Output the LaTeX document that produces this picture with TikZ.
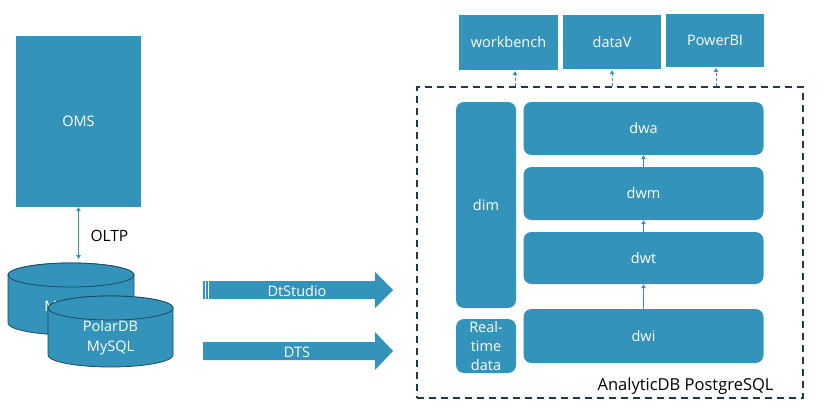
\documentclass[tikz,border=0pt]{standalone}
\usepackage{fontspec}
\setmainfont{Open Sans}
\usepackage{tikz}
\usetikzlibrary{arrows.meta, positioning, calc}

\definecolor{boxblue}{HTML}{3493BA}
\definecolor{rimblue}{HTML}{1C4A60}
\definecolor{frameblue}{HTML}{1F3A4B}

\tikzset{
  box/.style={fill=boxblue, text=white, font=\fontsize{14.5}{17}\selectfont,
              inner sep=0pt, align=center},
  layer/.style={box, rounded corners=8pt},
  flow/.style={draw=boxblue, line width=1pt, -{Triangle[length=4pt,width=4.5pt]}},
  dbtext/.style={text=white, font=\fontsize{14.5}{20}\selectfont, align=center}
}

\begin{document}
\begin{tikzpicture}[x=1pt, y=-1pt]
  \useasboundingbox (0,0) rectangle (830,412);

  % source side
  \node[box, minimum width=125, minimum height=171] (oms) at (78.5,121.5) {OMS};

  % back cylinder
  \draw[fill=boxblue, draw=rimblue, line width=0.8pt]
        (8,275) -- (8,323) arc[start angle=180, end angle=0, x radius=63, y radius=12]
        -- (134,275) arc[start angle=0, end angle=-180, x radius=63, y radius=12] -- cycle;
  \draw[fill=boxblue, draw=rimblue, line width=0.8pt] (71,275) ellipse[x radius=63, y radius=12];
  \coordinate (mysqltop) at (71,259);
  \node[dbtext] (mysql) at (68,308) {MySQL};

  % front cylinder
  \draw[fill=boxblue, draw=rimblue, line width=0.8pt]
        (48,308) -- (48,355) arc[start angle=180, end angle=0, x radius=62.5, y radius=12]
        -- (173,308) arc[start angle=0, end angle=-180, x radius=62.5, y radius=12] -- cycle;
  \draw[fill=boxblue, draw=rimblue, line width=0.8pt] (110.5,308) ellipse[x radius=62.5, y radius=12];
  \node[dbtext] (polar) at (110.5,338) {PolarDB\\MySQL};

  \draw[draw=boxblue, line width=0.8pt, {Triangle[length=4pt,width=4.5pt]}-{Triangle[length=4pt,width=4.5pt]}]
        (oms.south) -- (oms.south |- mysqltop);
  \node[font=\fontsize{15.5}{18}\selectfont, anchor=west] (oltp) at (87,236) {OLTP};

  % sync arrows
  \fill[boxblue] (203,281) rectangle (204.8,299);
  \fill[boxblue] (206,281) rectangle (207.8,299);
  \fill[boxblue] (209,281) -- (375,281) -- (375,272) -- (393,290) -- (375,308)
                 -- (375,299) -- (209,299) -- cycle;
  \node[dbtext] (dtstudio) at (297,291) {DtStudio};
  \fill[boxblue] (203,342) -- (375,342) -- (375,332) -- (393,351) -- (375,370)
                 -- (375,360) -- (203,360) -- cycle;
  \node[dbtext] (dts) at (297,352) {DTS};

  % warehouse
  \node[draw=frameblue, line width=1.6pt, dash pattern=on 7pt off 5pt,
        minimum width=386, minimum height=311, inner sep=0pt] (adb) at (610,242.5) {};
  \node[font=\fontsize{16.5}{19}\selectfont, anchor=base east] (adbname) at (777,390) {AnalyticDB PostgreSQL};

  \node[layer, minimum width=60, minimum height=206] (dim) at (486,205) {dim};
  \node[layer, minimum width=60, minimum height=54,
        font=\fontsize{14.5}{19}\selectfont] (rt) at (486,346) {Real-\\time\\data};

  \node[layer, minimum width=240, minimum height=53] (dwa) at (643.5,128.5) {dwa};
  \node[layer, minimum width=240, minimum height=53] (dwm) at (643.5,193.5) {dwm};
  \node[layer, minimum width=240, minimum height=52] (dwt) at (643.5,258) {dwt};
  \node[layer, minimum width=240, minimum height=54] (dwi) at (643.5,336) {dwi};

  \draw[flow] (dwi) -- (dwt);
  \draw[flow] (dwt) -- (dwm);
  \draw[flow] (dwm) -- (dwa);

  % consumers
  \node[box, minimum width=99, minimum height=55] (wb) at (508.5,42.5) {workbench};
  \node[box, minimum width=98, minimum height=54] (datav) at (612,42) {dataV};
  \node[box, minimum width=98, minimum height=53] (pbi) at (715,40.5) {PowerBI};

  \draw[flow, dash pattern=on 3pt off 2pt] (adb.north -| 515,0) -- (515,71);
  \draw[flow, dash pattern=on 3pt off 2pt] (adb.north -| datav) -- ($(datav.south)+(0,1)$);
  \draw[flow, dash pattern=on 3pt off 2pt] (adb.north -| 716,0) -- (716,68);
\end{tikzpicture}
\end{document}
